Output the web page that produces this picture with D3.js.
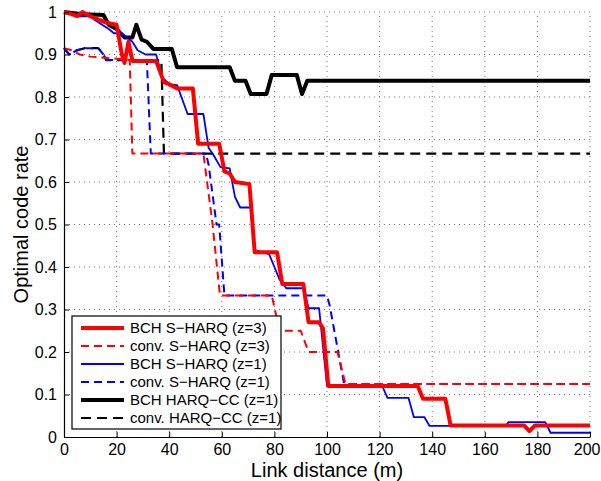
<!DOCTYPE html>
<html>
<head>
<meta charset="utf-8">
<script src="https://cdn.jsdelivr.net/npm/d3@7"></script>
<style>
body { margin: 0; background: #fff; }
text { font-family: "Liberation Sans", Arial, sans-serif; fill: #000; }
</style>
</head>
<body>
<script>
var xTicks = [0, 20, 40, 60, 80, 100, 120, 140, 160, 180, 200];
var yTicks = [0, 0.1, 0.2, 0.3, 0.4, 0.5, 0.6, 0.7, 0.8, 0.9, 1];
var yTickLabels = ['0', '0.1', '0.2', '0.3', '0.4', '0.5', '0.6', '0.7', '0.8', '0.9', '1'];

// [link distance (m), optimal code rate]
var bchZ3 = [[0,1],[3,0.995],[5,0.99],[7,1],[10,0.99],[12,0.985],[16,0.975],[20,0.97],[22,0.9],[23,0.88],[24.5,0.93],[26,0.885],
  [35,0.885],[38,0.835],[40,0.83],[43,0.82],[49,0.82],[51,0.69],[59,0.69],[61,0.625],[63,0.62],[65,0.6],[70.5,0.595],
  [72.5,0.435],[81,0.435],[83,0.36],[91,0.36],[93,0.27],[97,0.27],[98.5,0.255],[100.5,0.12],[134.5,0.12],[136.5,0.09],
  [145,0.09],[147,0.027],[175,0.027],[177,0.014],[179,0.027],[200,0.027]];
var convZ3 = [[0,0.915],[3,0.91],[6,0.9],[10,0.895],[20,0.89],[25,0.887],[26,0.667],[53,0.667],[56.5,0.5],[59.3,0.333],
  [79,0.333],[82,0.25],[90,0.25],[93,0.2],[104,0.2],[107,0.125],[200,0.125]];
var bchZ1 = [[0,1],[5,0.99],[10,0.99],[12,0.98],[17,0.96],[19,0.95],[22,0.95],[26,0.93],[28,0.91],[31,0.9],[35,0.9],
  [37.5,0.845],[40,0.83],[43,0.828],[47,0.76],[53,0.76],[55,0.68],[56.5,0.667],[59.5,0.635],[63,0.632],[65,0.565],
  [67,0.54],[71,0.54],[72.5,0.44],[78,0.43],[82,0.37],[84.5,0.35],[91,0.35],[93,0.303],[97,0.303],[100,0.12],[121,0.12],
  [123,0.092],[131,0.092],[133,0.047],[137,0.047],[139,0.026],[168,0.026],[169,0.035],[183,0.035],[185,0.01],[200,0.01]];
var convZ1 = [[0,0.915],[2,0.9],[5,0.91],[8,0.915],[13,0.915],[15,0.9],[16,0.887],[31.5,0.887],[33,0.667],[54,0.667],
  [55,0.64],[58,0.5],[59,0.5],[61,0.333],[100,0.333],[101,0.31],[106.5,0.125],[200,0.125]];
var bchCC = [[0,1],[7,0.995],[15,0.993],[17,0.97],[20,0.96],[23,0.94],[26,0.94],[27.5,0.97],[29.5,0.935],[31.5,0.93],
  [34,0.913],[41,0.913],[43,0.87],[63,0.87],[65,0.838],[69,0.838],[71,0.807],[77,0.807],[79,0.852],[88.5,0.852],
  [90.5,0.807],[92.5,0.838],[200,0.838]];
var convCC = [[0,0.915],[2,0.9],[5,0.91],[8,0.915],[13,0.915],[15,0.9],[16,0.887],[37,0.887],[38,0.667],[200,0.667]];

var seriesNames = ['BCH S\u2212HARQ (z=3)', 'conv. S\u2212HARQ (z=3)', 'BCH S\u2212HARQ (z=1)',
  'conv. S\u2212HARQ (z=1)', 'BCH HARQ\u2212CC (z=1)', 'conv. HARQ\u2212CC (z=1)'];

var styles = [
  {data: bchZ3, color: '#ff0000', w: 4, dash: null},
  {data: convZ3, color: '#ff0000', w: 2, dash: '8,5'},
  {data: bchZ1, color: '#0000ff', w: 1.8, dash: null},
  {data: convZ1, color: '#0000ff', w: 2, dash: '8,5'},
  {data: bchCC, color: '#000000', w: 4, dash: null},
  {data: convCC, color: '#000000', w: 2.2, dash: '10,6'}
];

var width = 601, height = 481,
  pLeft = 64, pRight = 590, pTop = 12, pBottom = 437;

var svg = d3.select('body').append('svg').attr('width', width).attr('height', height);
svg.append('rect').attr('width', width).attr('height', height).attr('fill', '#fff');

var x = d3.scaleLinear().domain([0, 200]).range([pLeft, pRight]);
var y = d3.scaleLinear().domain([0, 1]).range([pBottom, pTop]);

// dotted grid
var grid = svg.append('g').attr('stroke', '#777').attr('stroke-width', 1).attr('stroke-dasharray', '1,4');
grid.selectAll('.gx').data(xTicks.slice(1)).enter().append('line')
  .attr('x1', d => x(d)).attr('x2', d => x(d)).attr('y1', pBottom).attr('y2', pTop);
grid.selectAll('.gy').data(yTicks.slice(1)).enter().append('line')
  .attr('y1', d => y(d)).attr('y2', d => y(d)).attr('x1', pLeft).attr('x2', pRight);

var line = d3.line().x(d => x(d[0])).y(d => y(d[1]));

var order = [4, 5, 3, 2, 1, 0];
order.forEach(function(i) {
  var s = styles[i];
  svg.append('path').attr('d', line(s.data)).attr('fill', 'none')
    .attr('stroke', s.color).attr('stroke-width', s.w)
    .attr('stroke-linejoin', 'round')
    .attr('stroke-dasharray', s.dash);
});

var xAxis = svg.append('g').attr('transform', 'translate(0,' + pBottom + ')')
  .call(d3.axisBottom(x).tickValues(xTicks).tickSize(-5).tickPadding(7).tickSizeOuter(0));
var yAxis = svg.append('g').attr('transform', 'translate(' + pLeft + ',0)')
  .call(d3.axisLeft(y).tickValues(yTicks).tickSize(-5).tickPadding(7).tickSizeOuter(0)
    .tickFormat((d, i) => yTickLabels[i]));
[xAxis, yAxis].forEach(function(a) {
  a.selectAll('text').style('font-size', '16px').style('font-family', '"Liberation Sans", Arial, sans-serif').attr('fill', '#000');
  a.selectAll('line').attr('stroke', '#000');
  a.select('.domain').attr('stroke', '#000').attr('stroke-width', 1.2);
});
// keep the last x label inside the window
xAxis.selectAll('.tick text').filter(d => d === 200).attr('text-anchor', 'end').attr('dx', 10);

svg.append('text').attr('x', (pLeft + pRight) / 2).attr('y', 477).attr('text-anchor', 'middle')
  .style('font-size', '20px').text('Link distance (m)');
svg.append('text').attr('transform', 'translate(28,' + (pTop + pBottom) / 2 + ') rotate(-90)')
  .attr('text-anchor', 'middle').style('font-size', '20px').text('Optimal code rate');

// legend
var legend = svg.append('g');
legend.append('rect').attr('x', 72).attr('y', 316).attr('width', 209).attr('height', 113)
  .attr('fill', '#fff').attr('stroke', '#000').attr('stroke-width', 1.2);
seriesNames.forEach(function(name, i) {
  var s = styles[i], ly = 328 + i * 18;
  legend.append('line').attr('x1', 81).attr('x2', 124).attr('y1', ly).attr('y2', ly)
    .attr('stroke', s.color).attr('stroke-width', s.w).attr('stroke-dasharray', s.dash);
  legend.append('text').attr('x', 130).attr('y', ly).attr('dy', '0.35em')
    .style('font-size', '15px').text(name);
});
</script>
</body>
</html>
